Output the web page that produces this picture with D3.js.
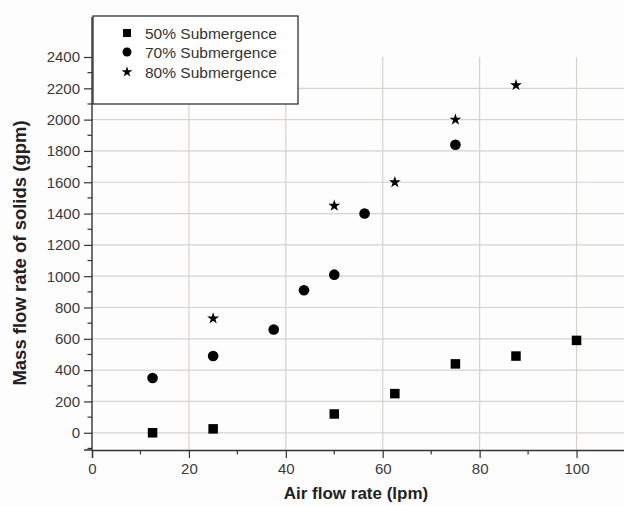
<!DOCTYPE html>
<html><head><meta charset="utf-8">
<script src="https://cdn.jsdelivr.net/npm/d3@7"></script>
<style>body{margin:0;background:#fff}svg{display:block}text{font-family:"Liberation Sans",Arial,sans-serif;fill:#333}</style>
</head><body>
<script>
const seriesNames = ["50% Submergence","70% Submergence","80% Submergence"];
const s50x = [12.5, 25, 50, 62.5, 75, 87.5, 100];
const s50y = [0, 25, 120, 250, 440, 490, 590];
const s70x = [12.5, 25, 37.5, 43.75, 50, 56.25, 75];
const s70y = [350, 490, 660, 910, 1010, 1400, 1840];
const s80x = [25, 50, 62.5, 75, 87.5];
const s80y = [730, 1450, 1600, 2000, 2220];
const xTicks = [0,20,40,60,80,100];
const yTicks = [0,200,400,600,800,1000,1200,1400,1600,1800,2000,2200,2400];

const W=624,H=506;
const svg=d3.select("body").append("svg").attr("width",W).attr("height",H);
svg.append("rect").attr("width",W).attr("height",H).attr("fill","#fdfdfd");
const x=d3.scaleLinear().domain([0,110]).range([92,625]);
const y=d3.scaleLinear().domain([-110,2400]).range([450,57]);

const grid="#d9d2cb";
svg.append("g").selectAll("line").data(yTicks.filter(d=>d<2400)).join("line")
 .attr("x1",x(0)).attr("x2",W).attr("y1",d=>y(d)).attr("y2",d=>y(d)).attr("stroke",grid).attr("stroke-width",1.2);
svg.append("g").selectAll("line").data(xTicks.filter(d=>d>0)).join("line")
 .attr("y1",y(2400)).attr("y2",y(-110)).attr("x1",d=>x(d)).attr("x2",d=>x(d)).attr("stroke",grid).attr("stroke-width",1.2);

const fmt=d3.format("d");
const xAxis=d3.axisBottom(x).tickValues(xTicks).tickFormat(fmt).tickSize(8).tickPadding(5);
const gx=svg.append("g").attr("transform",`translate(0,${y(-110)})`).call(xAxis);
gx.append("g").selectAll("line").data([10,30,50,70,90,110]).join("line")
 .attr("x1",d=>x(d)).attr("x2",d=>x(d)).attr("y1",0).attr("y2",4.5).attr("stroke","#333").attr("stroke-width",1.2);
const yAxis=d3.axisLeft(y).tickValues(yTicks).tickFormat(fmt).tickSize(8).tickPadding(4);
const gy=svg.append("g").attr("transform",`translate(${x(0)},0)`).call(yAxis);
gy.append("g").selectAll("line").data([-100,100,300,500,700,900,1100,1300,1500,1700,1900,2100,2300]).join("line")
 .attr("x1",0).attr("x2",-4.5).attr("y1",d=>y(d)).attr("y2",d=>y(d)).attr("stroke","#333").attr("stroke-width",1.2);
[gx,gy].forEach(g=>{g.select(".domain").attr("stroke","#333").attr("stroke-width",1.4);
 g.selectAll(".tick line").attr("stroke","#333").attr("stroke-width",1.2);
 g.selectAll(".tick text").style("font-size","15px").style("fill","#3a3a3a").attr("font-family","Liberation Sans, Arial, sans-serif");});
gy.select(".domain").attr("d",`M-8,${y(-110)}H0V${y(2400)-40}`);

svg.append("text").attr("x",356).attr("y",499).attr("text-anchor","middle").style("font-size","17px").style("font-weight","bold").style("fill","#222").text("Air flow rate (lpm)");
svg.append("text").attr("transform","translate(26,253) rotate(-90)").attr("text-anchor","middle").style("font-size","18.5px").style("font-weight","bold").style("fill","#222").text("Mass flow rate of solids (gpm)");

const star=d3.symbol().type(d3.symbolStar).size(44);
svg.append("g").selectAll("rect").data(s50x.map((v,i)=>[v,s50y[i]])).join("rect")
 .attr("x",d=>x(d[0])-4.75).attr("y",d=>y(d[1])-4.75).attr("width",9.5).attr("height",9.5).attr("fill","#000");
svg.append("g").selectAll("circle").data(s70x.map((v,i)=>[v,s70y[i]])).join("circle")
 .attr("cx",d=>x(d[0])).attr("cy",d=>y(d[1])).attr("r",5.3).attr("fill","#000");
svg.append("g").selectAll("path").data(s80x.map((v,i)=>[v,s80y[i]])).join("path")
 .attr("d",star).attr("transform",d=>`translate(${x(d[0])},${y(d[1])})`).attr("fill","#000");

const lg=svg.append("g");
lg.append("rect").attr("x",93).attr("y",16).attr("width",205).attr("height",88).attr("fill","#fff").attr("stroke","#333").attr("stroke-width",1.3);
const rows=[33,52,72];
lg.append("rect").attr("x",127-4).attr("y",rows[0]-4).attr("width",8).attr("height",8).attr("fill","#000");
lg.append("circle").attr("cx",127).attr("cy",rows[1]).attr("r",4.5).attr("fill","#000");
lg.append("path").attr("d",d3.symbol().type(d3.symbolStar).size(36)).attr("transform",`translate(127,${rows[2]})`).attr("fill","#000");
lg.selectAll("text.l").data(seriesNames).join("text").attr("class","l")
 .attr("x",145).attr("y",(d,i)=>rows[i]+5.5).style("font-size","15.5px").style("fill","#333").text(d=>d);
</script>
</body></html>
